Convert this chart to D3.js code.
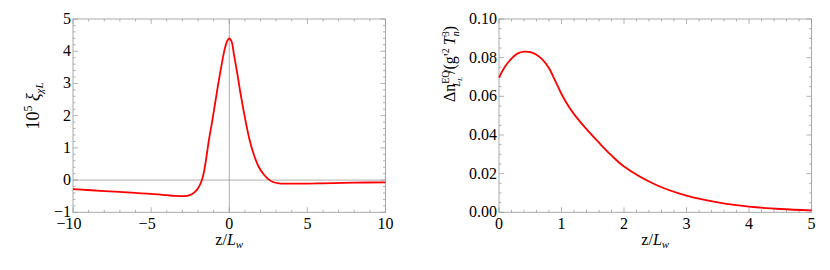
<!DOCTYPE html>
<html>
<head>
<meta charset="utf-8">
<script src="https://cdn.jsdelivr.net/npm/d3@7"></script>
<style>
  body { margin: 0; background: #fff; }
  text, tspan { font-family: "Liberation Serif", "Times New Roman", serif; }
</style>
</head>
<body>
<svg id="chart" width="830" height="270"></svg>
<script>
// left panel: 10^5 xi_chiL vs z/L_w
const leftZ = [-10, -8, -6, -5, -4, -3.5, -3, -2.7, -2.4, -2.1, -1.9, -1.75, -1.6, -1.45, -1.3, -1.1, -0.9, -0.7, -0.5, -0.3, -0.15, 0,
  0.15, 0.3, 0.5, 0.7, 0.9, 1.1, 1.3, 1.5, 1.7, 1.9, 2.2, 2.5, 2.8, 3.2, 4, 5, 6, 8, 10];
const leftXi = [-0.28, -0.34, -0.40, -0.43, -0.47, -0.49, -0.50, -0.49, -0.44, -0.32, -0.17, 0.0, 0.3, 0.75, 1.25, 1.8, 2.4, 3.0, 3.55, 4.05, 4.3, 4.4,
  4.3, 3.9, 3.35, 2.75, 2.2, 1.7, 1.25, 0.9, 0.62, 0.4, 0.18, 0.03, -0.06, -0.1, -0.11, -0.11, -0.10, -0.08, -0.07];
const leftXTicks = [-10, -5, 0, 5, 10];
const leftYTicks = [-1, 0, 1, 2, 3, 4, 5];

// right panel: Delta n_L^EQ / (g'^2 T_n^3) vs z/L_w
const rightZ = [0, 0.1, 0.2, 0.3, 0.4, 0.5, 0.6, 0.7, 0.8, 0.9, 1.0, 1.1, 1.2, 1.4, 1.6, 1.8, 2.0, 2.5, 3.0, 3.5, 4.0, 4.5, 5.0];
const rightN = [0.0697, 0.0755, 0.0795, 0.0822, 0.0831, 0.0829, 0.0815, 0.0788, 0.0745, 0.0680, 0.0612, 0.0555, 0.0508, 0.0430, 0.0360, 0.0294, 0.0237, 0.0144, 0.0086, 0.0051, 0.0029, 0.0017, 0.001];
const rightXTicks = [0, 1, 2, 3, 4, 5];
const rightYTicks = [0, 0.02, 0.04, 0.06, 0.08, 0.10];

const svg = d3.select('#chart');
const serif = "Liberation Serif";
const frameCol = '#a0a0a0';

function panel(opt) {
  const x = d3.scaleLinear().domain(opt.xDomain).range([opt.left, opt.right]);
  const y = d3.scaleLinear().domain(opt.yDomain).range([opt.bottom, opt.top]);
  const g = svg.append('g').attr('font-family', serif);

  // zero axes (Mathematica style)
  if (opt.axes) {
    g.append('line').attr('x1', x(0)).attr('x2', x(0)).attr('y1', opt.top).attr('y2', opt.bottom)
      .attr('stroke', '#999').attr('stroke-width', 0.8);
    g.append('line').attr('x1', opt.left).attr('x2', opt.right).attr('y1', y(0)).attr('y2', y(0))
      .attr('stroke', '#999').attr('stroke-width', 0.8);
  }

  // ticks on all four sides, pointing in
  const minX = d3.range(opt.xDomain[0], opt.xDomain[1] + 1e-9, opt.xMinor);
  const minY = d3.range(opt.yDomain[0], opt.yDomain[1] + 1e-9, opt.yMinor);
  const tk = g.append('g').attr('stroke', frameCol).attr('stroke-width', 0.8);
  minX.forEach(v => {
    const major = opt.xTicks.some(t => Math.abs(t - v) < 1e-6);
    const len = major ? 5 : 2.5;
    tk.append('line').attr('x1', x(v)).attr('x2', x(v)).attr('y1', opt.bottom).attr('y2', opt.bottom - len);
    tk.append('line').attr('x1', x(v)).attr('x2', x(v)).attr('y1', opt.top).attr('y2', opt.top + len);
  });
  minY.forEach(v => {
    const major = opt.yTicks.some(t => Math.abs(t - v) < 1e-6);
    const len = major ? 5 : 2.5;
    tk.append('line').attr('y1', y(v)).attr('y2', y(v)).attr('x1', opt.left).attr('x2', opt.left + len);
    tk.append('line').attr('y1', y(v)).attr('y2', y(v)).attr('x1', opt.right).attr('x2', opt.right - len);
  });

  // frame
  g.append('rect').attr('x', opt.left).attr('y', opt.top)
    .attr('width', opt.right - opt.left).attr('height', opt.bottom - opt.top)
    .attr('fill', 'none').attr('stroke', frameCol).attr('stroke-width', 0.9);

  // curve
  const line = d3.line().x(d => x(d[0])).y(d => y(d[1])).curve(d3.curveCatmullRom.alpha(0.5));
  g.append('path').datum(opt.xs.map((v, i) => [v, opt.ys[i]]))
    .attr('d', line).attr('fill', 'none').attr('stroke', '#ff0000').attr('stroke-width', 1.8);

  // tick labels
  g.selectAll('.xl').data(opt.xTicks).enter().append('text')
    .attr('font-family', serif)
    .attr('x', d => x(d) - (d < 0 ? 4 : 0)).attr('y', opt.bottom + 17).attr('text-anchor', 'middle')
    .attr('font-size', 16).text(d => d < 0 ? '\u2212' + Math.abs(d) : d);
  g.selectAll('.yl').data(opt.yTicks).enter().append('text')
    .attr('font-family', serif)
    .attr('x', opt.left - 2).attr('y', d => y(d) + 5).attr('text-anchor', 'end')
    .attr('font-size', 16).text(d => opt.yFmt(d));

  // x label z/L_w
  const xl = g.append('text').attr('font-family', serif)
    .attr('x', (opt.left + opt.right) / 2).attr('y', 245)
    .attr('text-anchor', 'middle').attr('font-size', 16);
  xl.append('tspan').text('z/');
  xl.append('tspan').attr('font-style', 'italic').text('L');
  xl.append('tspan').attr('font-style', 'italic').attr('font-size', 11).attr('dy', 3).text('w');
  return g;
}

panel({
  left: 73, right: 385.5, top: 19, bottom: 212.3,
  xDomain: [-10, 10], yDomain: [-1, 5], xMinor: 1, yMinor: 0.2,
  xTicks: leftXTicks, yTicks: leftYTicks, axes: true,
  xs: leftZ, ys: leftXi,
  yFmt: d => d < 0 ? '\u2212' + Math.abs(d) : d
});

panel({
  left: 499, right: 811.5, top: 19, bottom: 212.3,
  xDomain: [0, 5], yDomain: [0, 0.1], xMinor: 0.2, yMinor: 0.005,
  xTicks: rightXTicks, yTicks: rightYTicks, axes: false,
  xs: rightZ, ys: rightN,
  yFmt: d3.format('.2f')
});

// y label, left: 10^5 xi_chiL
const yl1 = svg.append('text').attr('font-family', serif)
  .attr('transform', 'translate(39,106) rotate(-90)')
  .attr('text-anchor', 'middle').attr('font-size', 18);
yl1.append('tspan').text('10');
yl1.append('tspan').attr('font-size', 12).attr('dy', -7).text('5');
yl1.append('tspan').attr('dy', 7).text(' ');
yl1.append('tspan').attr('font-style', 'italic').text('\u03be');
yl1.append('tspan').attr('font-style', 'italic').attr('font-size', 11).attr('dy', 4).text('\u03c7L');

// y label, right: Delta n_L_L^EQ/(g'^2 T_n^3)
const yl2 = svg.append('text').attr('font-family', serif)
  .attr('transform', 'translate(455,64) rotate(-90)')
  .attr('text-anchor', 'middle').attr('font-size', 16);
yl2.append('tspan').text('\u0394n');
yl2.append('tspan').attr('font-size', 10).attr('dy', -6).text('EQ');
yl2.append('tspan').attr('font-size', 10).attr('font-style', 'italic').attr('dx', -16).attr('dy', 11).text('L');
yl2.append('tspan').attr('font-size', 7).attr('font-style', 'italic').attr('dy', 2).text('L');
yl2.append('tspan').attr('dy', -7).attr('dx', 3).text("/(g'");
yl2.append('tspan').attr('font-size', 10).attr('dy', -6).text('2');
yl2.append('tspan').attr('dy', 6).text('\u2009');
yl2.append('tspan').attr('font-style', 'italic').text('T');
yl2.append('tspan').attr('font-size', 10).attr('font-style', 'italic').attr('dy', 4).text('n');
yl2.append('tspan').attr('font-size', 10).attr('dx', -5).attr('dy', -10).text('3');
yl2.append('tspan').attr('dy', 6).text(')');
</script>
</body>
</html>
